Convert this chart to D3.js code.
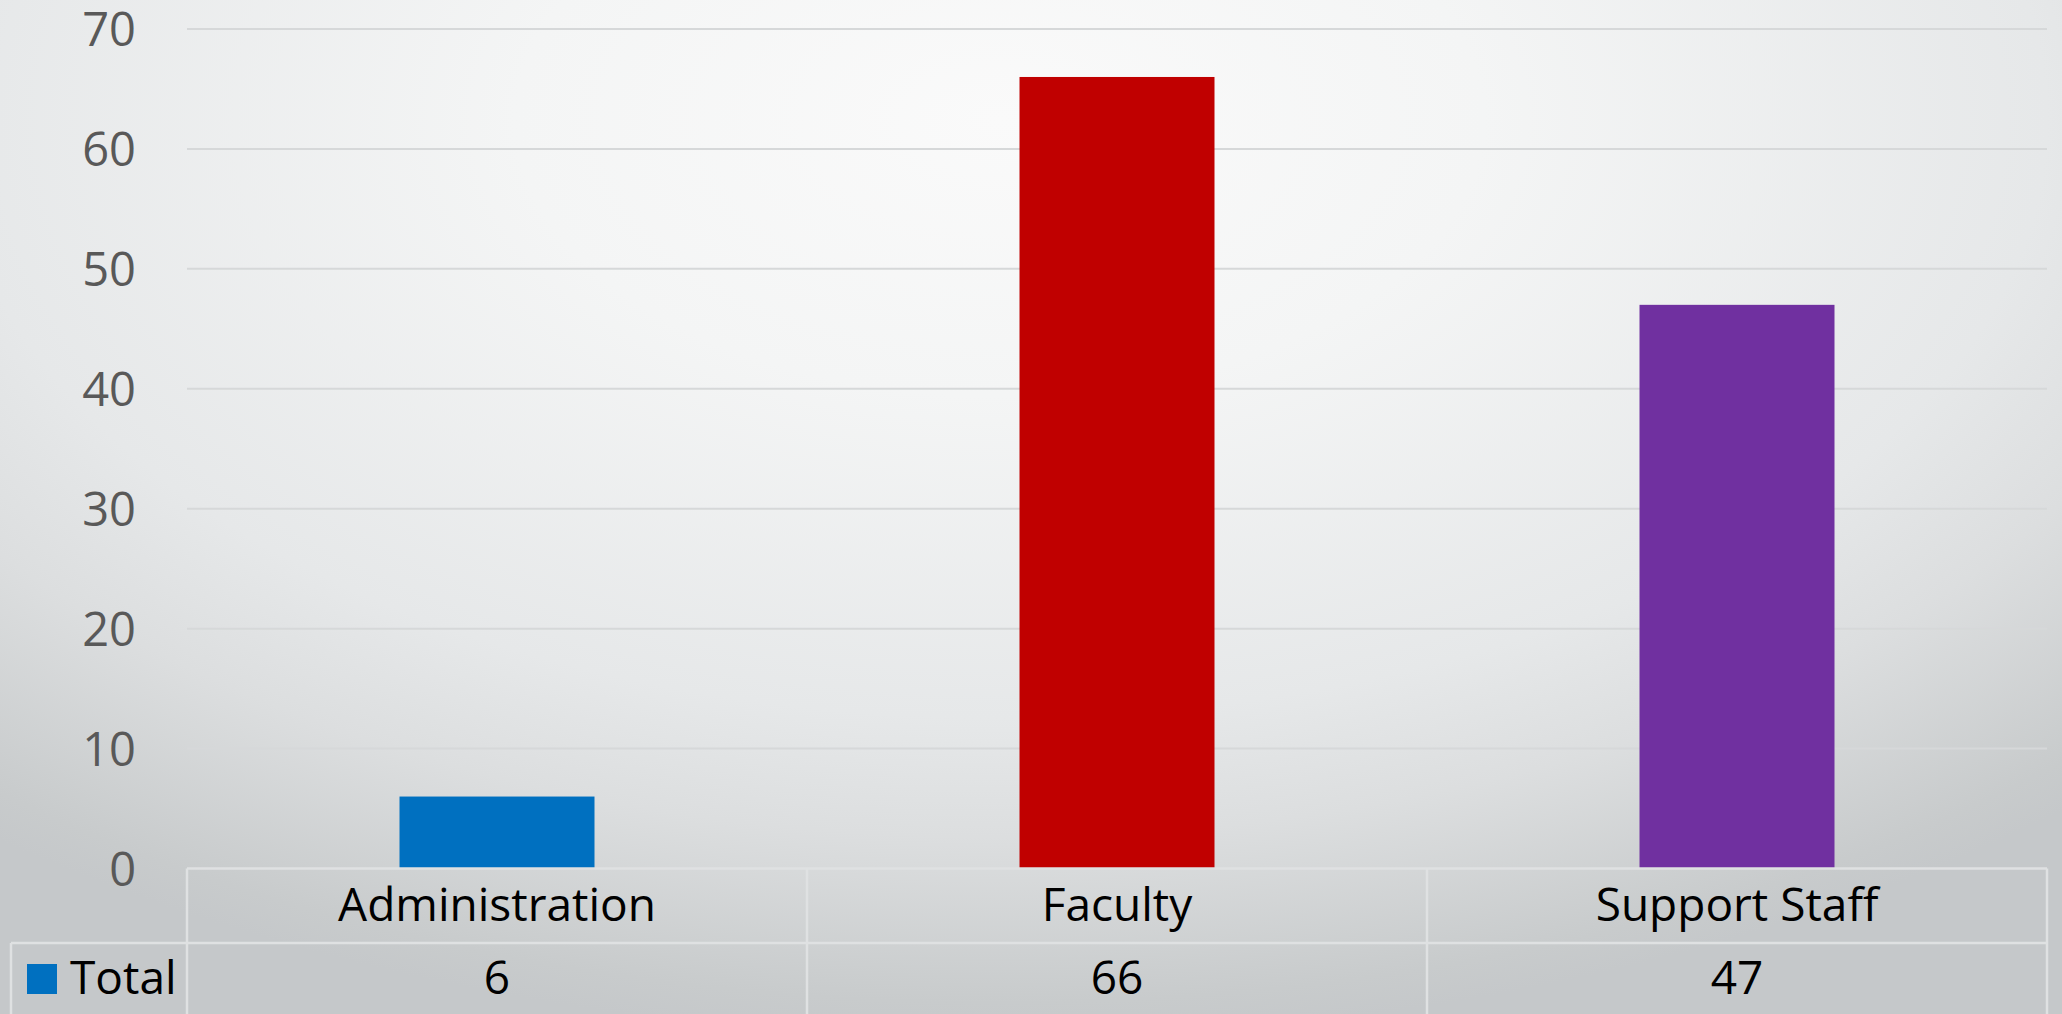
<!DOCTYPE html>
<html>
<head>
<meta charset="utf-8">
<script src="https://cdn.jsdelivr.net/npm/d3@7"></script>
<style>
  html, body { margin: 0; padding: 0; overflow: hidden; }
  svg { display: block; }
  text { font-family: "Open Sans", "Noto Sans", sans-serif; }
</style>
</head>
<body>
<script>
const categories = ["Administration", "Faculty", "Support Staff"];
const values = [6, 66, 47];
const barColors = ["#0070C0", "#C00000", "#7030A0"];
const seriesName = "Total";
const legendColor = "#0070C0";
const yTicks = [0, 10, 20, 30, 40, 50, 60, 70];

const W = 2062, H = 1014;
const plotLeft = 187, plotRight = 2047, plotTop = 29, plotBottom = 868.5;
const rowH = 74.5;

const svg = d3.select("body").append("svg").attr("width", W).attr("height", H);

const defs = svg.append("defs");
const grad = defs.append("radialGradient")
  .attr("id", "bg")
  .attr("gradientUnits", "userSpaceOnUse")
  .attr("cx", 1000).attr("cy", 120).attr("r", 1610)
  .attr("gradientTransform", "translate(0," + (120 * (1 - 0.571)) + ") scale(1,0.571)");
[[0, "#fafafa"], [0.3, "#f4f5f5"], [0.65, "#e6e8e9"], [0.78, "#dcdedf"], [0.96, "#c8cbcc"], [1, "#c5c8ca"]]
  .forEach(([o, c]) => grad.append("stop").attr("offset", o).attr("stop-color", c));

svg.append("rect").attr("width", W).attr("height", H).attr("fill", "url(#bg)");

const x = d3.scaleBand().domain(categories).range([plotLeft, plotRight])
  .paddingInner(0.6855).paddingOuter(0.6855 / 2);
const xCol = d3.scaleBand().domain(categories).range([plotLeft, plotRight]);
const y = d3.scaleLinear().domain([0, 70]).range([plotBottom, plotTop]);

// gridlines
svg.append("g").selectAll("line").data(yTicks.filter(t => t > 0)).join("line")
  .attr("x1", plotLeft).attr("x2", plotRight)
  .attr("y1", d => y(d)).attr("y2", d => y(d))
  .attr("stroke", "#d6d8d9").attr("stroke-width", 2);

// y axis labels
const yAxis = d3.axisLeft(y).tickValues(yTicks).tickSize(0).tickPadding(0);
const ya = svg.append("g").attr("transform", "translate(136,0)").call(yAxis);
ya.select(".domain").remove();
ya.selectAll("text")
  .attr("font-family", "'Open Sans', sans-serif")
  .attr("font-size", 47).attr("fill", "#595959")
  .attr("dy", "0.36em");

// bars
svg.append("g").selectAll("rect").data(categories).join("rect")
  .attr("x", d => x(d)).attr("width", x.bandwidth())
  .attr("y", (d, i) => y(values[i]))
  .attr("height", (d, i) => y(0) - y(values[i]))
  .attr("fill", (d, i) => barColors[i]);

// data table
const tbl = svg.append("g").attr("stroke", "#dfe1e2").attr("stroke-width", 2.5);
const rowTop = plotBottom, rowMid = plotBottom + rowH;
tbl.append("line").attr("x1", plotLeft).attr("x2", plotRight).attr("y1", rowTop).attr("y2", rowTop);
tbl.append("line").attr("x1", 11).attr("x2", plotRight).attr("y1", rowMid).attr("y2", rowMid);
tbl.append("line").attr("x1", 11).attr("x2", 11).attr("y1", rowMid).attr("y2", H);
const vEdges = categories.map(c => xCol(c)).concat([plotRight]);
tbl.selectAll("line.v").data(vEdges).join("line").attr("class", "v")
  .attr("x1", d => d).attr("x2", d => d).attr("y1", rowTop).attr("y2", H);

svg.append("g").selectAll("text").data(categories).join("text")
  .attr("x", d => xCol(d) + xCol.bandwidth() / 2)
  .attr("y", 921)
  .attr("text-anchor", "middle")
  .attr("font-size", 46).attr("fill", "#000")
  .text(d => d);

svg.append("g").selectAll("text").data(values).join("text")
  .attr("x", (d, i) => xCol(categories[i]) + xCol.bandwidth() / 2)
  .attr("y", 994)
  .attr("text-anchor", "middle")
  .attr("font-size", 46).attr("fill", "#000")
  .text(d => d);

// legend key
svg.append("rect").attr("x", 27).attr("y", 964).attr("width", 30).attr("height", 30).attr("fill", legendColor);
svg.append("text").attr("x", 70).attr("y", 994).attr("font-size", 46).attr("fill", "#000").text(seriesName);
</script>
</body>
</html>
